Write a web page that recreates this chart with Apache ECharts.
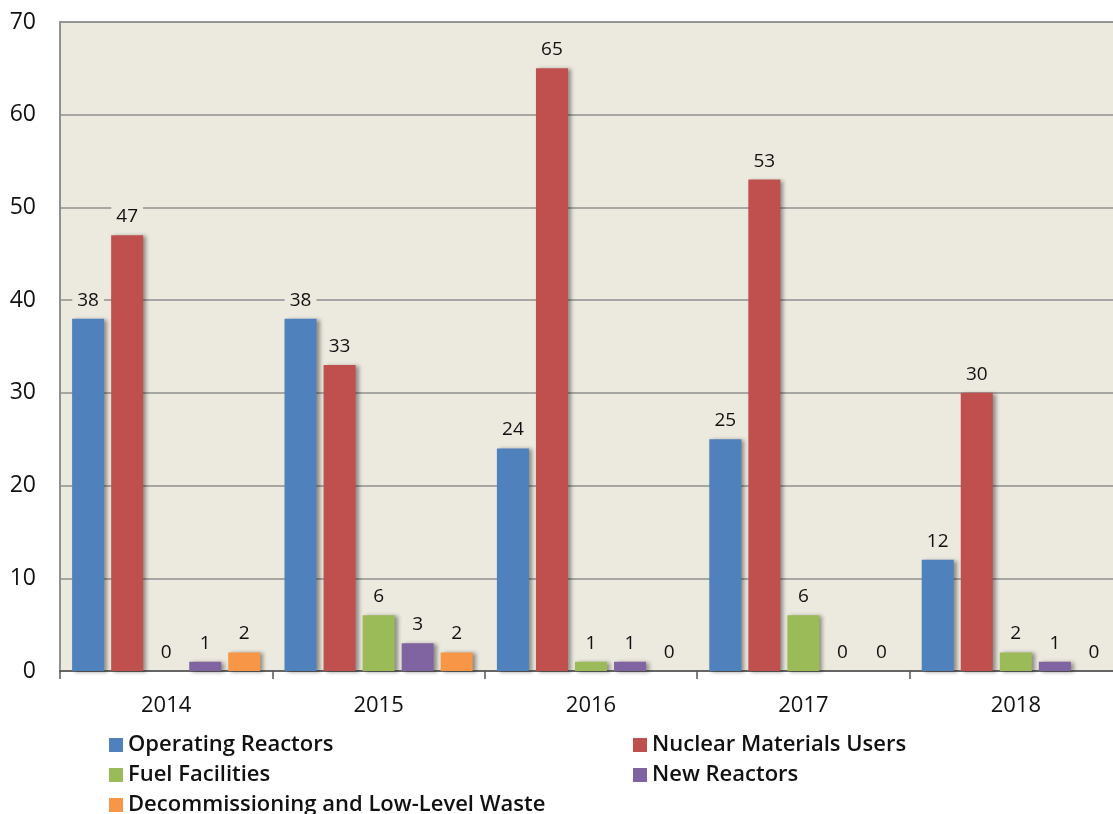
<!DOCTYPE html>
<html>
<head>
<meta charset="utf-8">
<script src="https://cdn.jsdelivr.net/npm/echarts@6/dist/echarts.min.js"></script>
<style>
  html, body { margin: 0; padding: 0; background: #ffffff; overflow: hidden; }
  #chart { width: 1130px; height: 814px; }
</style>
</head>
<body>
<div id="chart"></div>
<script>
// Inspection counts by program area, 2014–2018
const years = ['2014', '2015', '2016', '2017', '2018'];
const operatingReactors = [38, 38, 24, 25, 12];
const nuclearMaterialsUsers = [47, 33, 65, 53, 30];
const fuelFacilities = [0, 6, 1, 6, 2];
const newReactors = [1, 3, 1, 0, 1];
const decommissioning = [2, 2, 0, 0, 0];
const yTicks = [0, 10, 20, 30, 40, 50, 60, 70];

const seriesNames = [
  'Operating Reactors',
  'Nuclear Materials Users',
  'Fuel Facilities',
  'New Reactors',
  'Decommissioning and Low-Level Waste'
];
const seriesData = [operatingReactors, nuclearMaterialsUsers, fuelFacilities, newReactors, decommissioning];
const colors = ['#4F81BD', '#C0504D', '#9BBB59', '#8064A2', '#F79646'];
const plotBg = '#ECE9DF';
const font = '"Open Sans", "Noto Sans", sans-serif';

const chart = echarts.init(document.getElementById('chart'), null, { renderer: 'canvas' });

const legendText = { fontFamily: font, fontSize: 22, fontWeight: 600, color: '#111' };
// Two-column legend: [name index, left, top]
const legendSlots = [
  [0, 104, 729], [1, 628, 729],
  [2, 104, 759], [3, 628, 759],
  [4, 104, 789]
];

chart.setOption({
  animation: false,
  color: colors,
  grid: {
    left: 60, top: 22, bottom: 143, right: 8,
    show: true, backgroundColor: plotBg, borderColor: '#8a8a8a', borderWidth: 1.5,
    containLabel: false
  },
  legend: legendSlots.map(([idx, left, top]) => ({
    data: [seriesNames[idx]],
    orient: 'horizontal', left, top,
    itemWidth: 14, itemHeight: 14, icon: 'rect', itemGap: 0,
    textStyle: legendText
  })),
  xAxis: {
    type: 'category',
    data: years,
    axisLine: { show: true, lineStyle: { color: '#555', width: 1.5 } },
    axisTick: { show: true, length: 8, lineStyle: { color: '#555', width: 1.5 } },
    axisLabel: { fontFamily: font, fontSize: 22, fontWeight: 500, color: '#111', margin: 24 },
    splitLine: { show: false }
  },
  yAxis: {
    type: 'value',
    min: yTicks[0], max: yTicks[yTicks.length - 1], interval: 10,
    axisLine: { show: true, lineStyle: { color: '#8a8a8a', width: 1.5 } },
    axisTick: { show: false },
    axisLabel: { fontFamily: font, fontSize: 23, fontWeight: 500, color: '#111', margin: 24 },
    splitLine: { show: true, lineStyle: { color: '#8f8f8f', width: 1.5 } }
  },
  series: seriesNames.map((name, i) => ({
    name,
    type: 'bar',
    data: seriesData[i],
    barWidth: 32,
    barGap: '22%',
    itemStyle: {
      color: colors[i],
      shadowColor: 'rgba(0,0,0,0.4)',
      shadowBlur: 4,
      shadowOffsetX: 3,
      shadowOffsetY: 1
    },
    label: {
      show: true,
      position: 'top',
      distance: 8,
      fontFamily: font,
      fontSize: 19,
      fontWeight: 500,
      color: '#111',
      backgroundColor: plotBg,
      padding: [1, 5]
    }
  }))
});
</script>
</body>
</html>
